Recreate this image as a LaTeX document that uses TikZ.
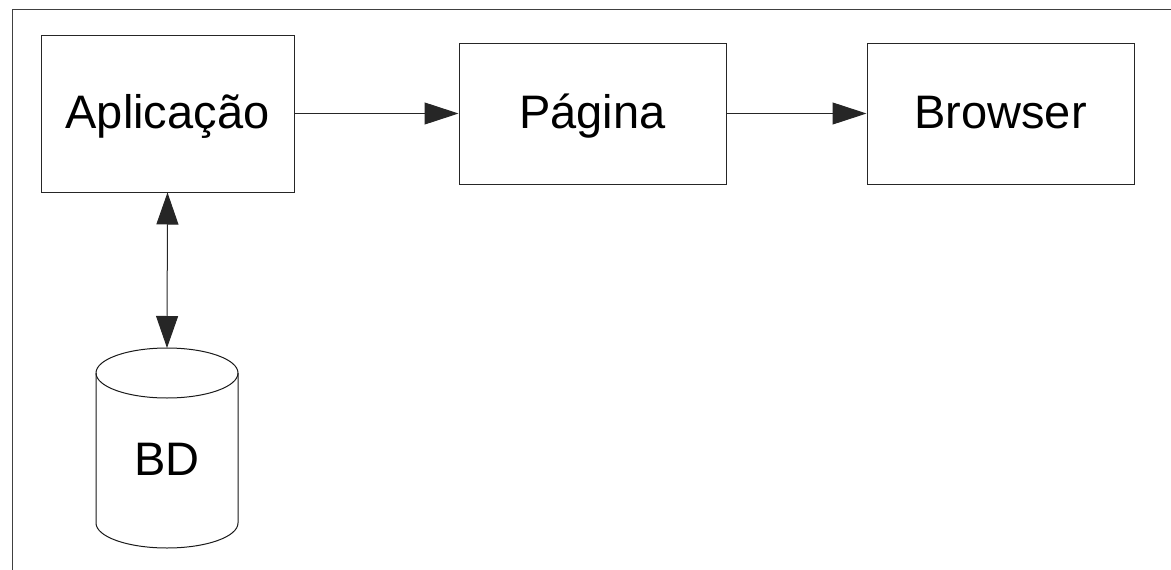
\documentclass[tikz,border=0pt]{standalone}
\usepackage{fontspec}
\setmainfont{Liberation Sans}
\usetikzlibrary{arrows.meta}
\begin{document}
\begin{tikzpicture}[x=1pt,y=-1pt,
  lbl/.style={inner sep=0pt,text height=30pt,text depth=0pt,font=\fontsize{47}{54}\selectfont},
  box/.style={lbl,draw=black!85,line width=1pt},
  conn/.style={draw=black!85,line width=1pt,-{Triangle[length=34pt,width=22pt]}},
  frameline/.style={draw=black!75,line width=1pt}]
\useasboundingbox (0,0) rectangle (1171,570);
\draw[frameline] (12,570) -- (12,9) -- (1171,9);
\node[box,minimum width=253pt,minimum height=157pt] (app) at (167.5,113.5) {Aplicação};
\node[box,minimum width=267pt,minimum height=141pt] (pag) at (592.5,113.5) {Página};
\node[box,minimum width=267pt,minimum height=141pt] (brw) at (1000.5,113.5) {Browser};
% cylinder
\coordinate (bdtop) at (167,348);
\draw[draw=black!90,line width=1pt,fill=white]
  (96,373) arc[start angle=180,end angle=360,x radius=71,y radius=25]
  arc[start angle=0,end angle=180,x radius=71,y radius=25];
\draw[draw=black!90,line width=1pt]
  (96,373) -- (96,523) arc[start angle=180,end angle=0,x radius=71,y radius=25] -- (238,373);
\node[lbl] (bd) at (167,460) {BD};
\draw[conn] (app.east) -- (pag.west);
\draw[conn] (pag.east) -- (brw.west);
\draw[conn,{Triangle[length=32pt,width=22pt]}-{Triangle[length=32pt,width=22pt]}] (app.south) -- (bdtop);
\end{tikzpicture}
\end{document}
